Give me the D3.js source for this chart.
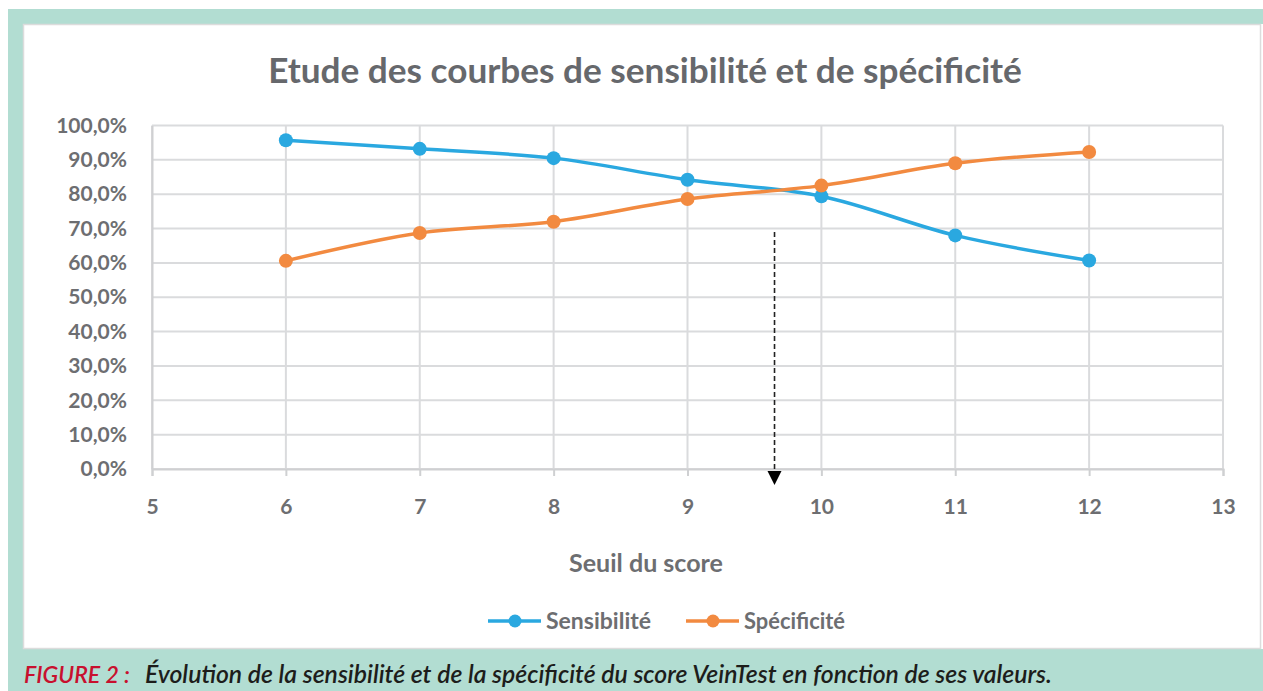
<!DOCTYPE html>
<html>
<head>
<meta charset="utf-8">
<script src="https://cdn.jsdelivr.net/npm/d3@7"></script>
<style>
  body { margin: 0; background: #fff; }
  svg { display: block; }
</style>
</head>
<body>
<svg id="chart" width="1263" height="691"></svg>
<script>
// data
var seuils = [6, 7, 8, 9, 10, 11, 12];
var sensibilite = [95.7, 93.2, 90.5, 84.2, 79.4, 68.0, 60.7];
var specificite = [60.6, 68.7, 72.0, 78.6, 82.5, 89.0, 92.3];
var xTicks = [5, 6, 7, 8, 9, 10, 11, 12, 13];
var yTicks = [0, 10, 20, 30, 40, 50, 60, 70, 80, 90, 100];
var seriesNames = ["Sensibilité", "Spécificité"];
var seuilOptimal = 9.65;

var W = 1263, H = 691;
var teal = "#b2ddd2";
var grey = "#6d6e71";
var font = "Lato, 'Open Sans', sans-serif";
var colors = ["#2aa8e0", "#f28a40"];

var svg = d3.select("#chart");

// frame
svg.append("rect").attr("x", 8).attr("y", 9).attr("width", W - 8).attr("height", H - 9).attr("fill", teal);
svg.append("rect").attr("x", 1259).attr("y", 24).attr("width", 4).attr("height", 625).attr("fill", "#fff");
svg.append("rect").attr("x", 23.5).attr("y", 24.5).attr("width", 1237).attr("height", 624)
    .attr("fill", "#fff").attr("stroke", "#dcdcdc").attr("stroke-width", 1.5);

// fit a text element to a target width by adjusting font-size
function fit(sel, width) {
    var node = sel.node();
    var fs = parseFloat(sel.attr("font-size"));
    var w = node.getComputedTextLength();
    sel.attr("font-size", (fs * width / w).toFixed(2));
}

var x = d3.scaleLinear().domain([5, 13]).range([152, 1223]);
var y = d3.scaleLinear().domain([0, 100]).range([469, 125.5]);

// title
var title = svg.append("text").attr("x", 645).attr("y", 83)
    .attr("text-anchor", "middle").attr("font-family", font).attr("font-weight", 700)
    .attr("font-size", 29).attr("fill", "#66686c")
    .text("Etude des courbes de sensibilité et de spécificité");
fit(title, 754);

// gridlines
var grid = svg.append("g");
grid.selectAll("line.h").data(yTicks).enter().append("line")
    .attr("x1", x(5)).attr("x2", x(13))
    .attr("y1", function(d) { return y(d); }).attr("y2", function(d) { return y(d); })
    .attr("stroke", "#dadbdd").attr("stroke-width", 2);
grid.selectAll("line.v").data(xTicks).enter().append("line")
    .attr("x1", function(d) { return x(d); }).attr("x2", function(d) { return x(d); })
    .attr("y1", y(100)).attr("y2", y(0))
    .attr("stroke", "#dadbdd").attr("stroke-width", 2);

// x axis
var xAxis = svg.append("g").attr("transform", "translate(0," + y(0) + ")")
    .call(d3.axisBottom(x).tickValues(xTicks).tickSize(7).tickPadding(23).tickFormat(d3.format("d")));
xAxis.select(".domain").attr("stroke", "#cfd0d2").attr("stroke-width", 2);
xAxis.selectAll(".tick line").attr("stroke", "#cfd0d2").attr("stroke-width", 2);
xAxis.selectAll("text").attr("font-family", font).attr("font-weight", 700)
    .attr("font-size", 21).attr("fill", grey);

// y axis
var yAxis = svg.append("g").attr("transform", "translate(" + x(5) + ",0)")
    .call(d3.axisLeft(y).tickValues(yTicks).tickSize(0).tickPadding(25)
        .tickFormat(function(d) { return d3.format(".1f")(d).replace(".", ",") + "%"; }));
yAxis.select(".domain").attr("stroke", "#cfd0d2").attr("stroke-width", 2);
yAxis.selectAll("text").attr("font-family", font).attr("font-weight", 700)
    .attr("font-size", 21).attr("fill", grey);

// axis title
var xt = svg.append("text").attr("x", 646).attr("y", 572)
    .attr("text-anchor", "middle").attr("font-family", font).attr("font-weight", 700)
    .attr("font-size", 20).attr("fill", grey).text("Seuil du score");
fit(xt, 154);

// dashed arrow at optimal threshold
svg.append("line").attr("x1", x(seuilOptimal)).attr("x2", x(seuilOptimal))
    .attr("y1", 232).attr("y2", 472)
    .attr("stroke", "#222").attr("stroke-width", 1.6).attr("stroke-dasharray", "5,3");
svg.append("path")
    .attr("d", d3.line()([[x(seuilOptimal) - 7, 471], [x(seuilOptimal) + 7, 471], [x(seuilOptimal), 485]]) + "Z")
    .attr("fill", "#000");

// lines
var series = [sensibilite, specificite];
var line = d3.line()
    .x(function(d, i) { return x(seuils[i]); })
    .y(function(d) { return y(d); })
    .curve(d3.curveCatmullRom.alpha(0.5));

series.forEach(function(vals, k) {
    svg.append("path").datum(vals).attr("d", line)
        .attr("fill", "none").attr("stroke", colors[k]).attr("stroke-width", 3.5);
    svg.selectAll(null).data(vals).enter().append("circle")
        .attr("cx", function(d, i) { return x(seuils[i]); })
        .attr("cy", function(d) { return y(d); })
        .attr("r", 7).attr("fill", colors[k]);
});

// legend
var legendX = [488, 686];
var legendW = [105, 101];
seriesNames.forEach(function(name, k) {
    var g = svg.append("g").attr("transform", "translate(" + legendX[k] + ",621)");
    g.append("line").attr("x1", 0).attr("x2", 53).attr("stroke", colors[k]).attr("stroke-width", 3.5);
    g.append("circle").attr("cx", 27).attr("r", 6.5).attr("fill", colors[k]);
    var t = g.append("text").attr("x", 58).attr("y", 8)
        .attr("font-family", font).attr("font-weight", 700).attr("font-size", 19)
        .attr("fill", grey).text(name);
    fit(t, legendW[k]);
});

// caption
var capFont = "Lato, 'Open Sans', sans-serif";
var capA = svg.append("text").attr("x", 24).attr("y", 683)
    .attr("font-family", capFont).attr("font-style", "italic").attr("font-weight", 600)
    .attr("font-size", 22).attr("fill", "#c8102e").text("FIGURE 2 :");
fit(capA, 106);
var capB = svg.append("text").attr("x", 145).attr("y", 683)
    .attr("font-family", capFont).attr("font-style", "italic").attr("font-weight", 600)
    .attr("font-size", 22).attr("fill", "#1d1d1b")
    .text("Évolution de la sensibilité et de la spécificité du score VeinTest en fonction de ses valeurs.");
fit(capB, 907);
</script>
</body>
</html>
